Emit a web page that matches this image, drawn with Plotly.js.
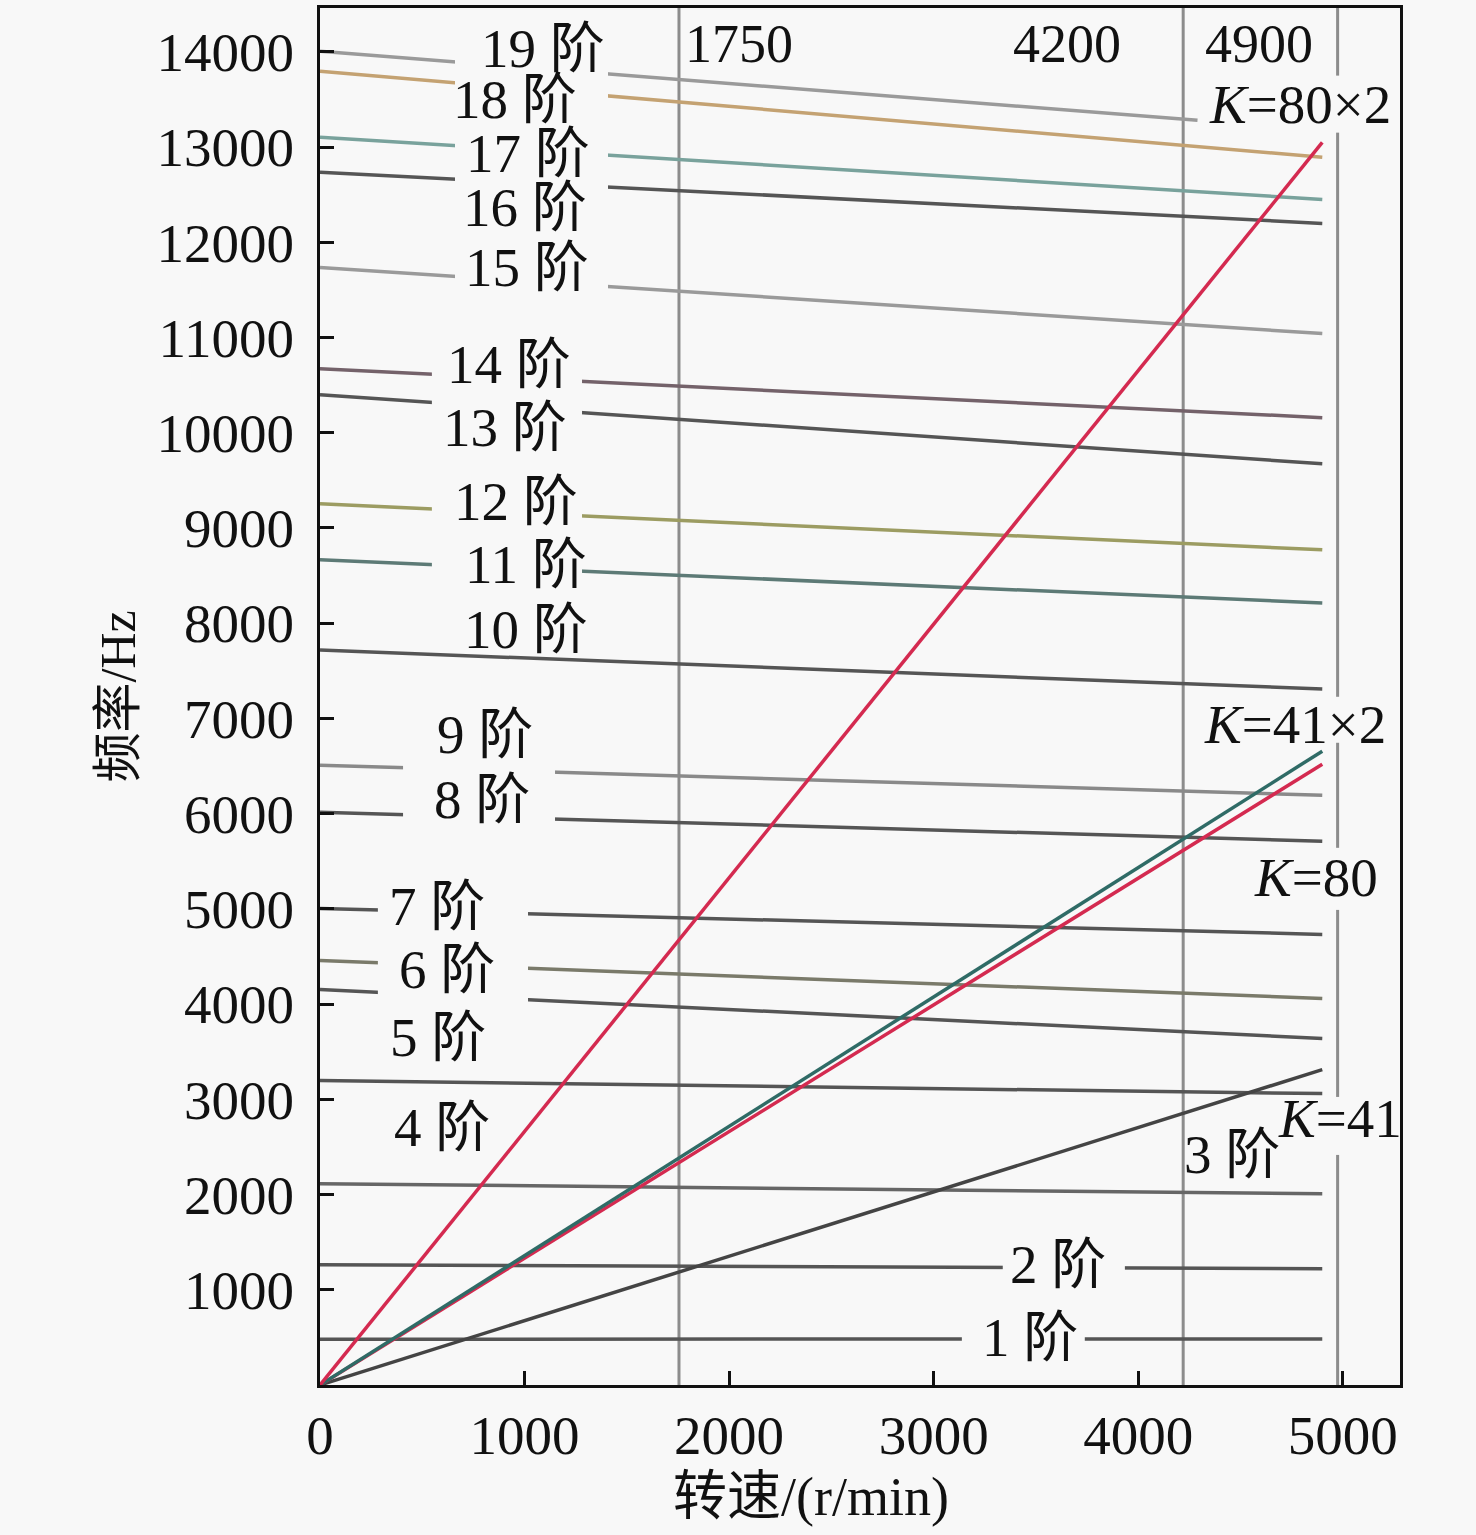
<!DOCTYPE html>
<html>
<head>
<meta charset="utf-8">
<script src="https://cdn.plot.ly/plotly-3.0.1.min.js"></script>
<style>
  html, body { margin: 0; padding: 0; background: #f8f8f8; }
  #myDiv { width: 1476px; height: 1535px; }
</style>
</head>
<body>
<div id="myDiv"></div>
<script>
// mode lines (阶): value at 0 r/min and at the right end
var modeNames = ['1 阶', '2 阶', '3 阶', '4 阶', '5 阶', '6 阶', '7 阶', '8 阶', '9 阶', '10 阶',
                 '11 阶', '12 阶', '13 阶', '14 阶', '15 阶', '16 阶', '17 阶', '18 阶', '19 阶'];
var modeEndSpeed = [4900, 4900, 4900, 4900, 4900, 4900, 4900, 4900, 4900, 4900,
                    4900, 4900, 4900, 4900, 4900, 4900, 4900, 4900, 4290];
var modeStart = [480, 1262, 2114, 3197, 4154, 4458, 5005, 6015, 6509, 7718,
                 8665, 9253, 10400, 10673, 11735, 12734, 13102, 13796, 14006];
var modeEnd = [484, 1220, 2008, 3060, 3638, 4059, 4732, 5710, 6193, 7308,
               8212, 8770, 9674, 10158, 11041, 12198, 12450, 12892, 13281];

// excitation lines K
var kNames = ['K=41', 'K=80', 'K=41×2', 'K=80×2'];
var kEndSpeed = [4900, 4900, 4900, 4900];
var kEnd = [3312, 6519, 6656, 13049];

// speed markers
var markSpeed = [1755, 4220, 4975];
var markText = ['1750', '4200', '4900'];

// axis ticks
var xTicks = [0, 1000, 2000, 3000, 4000, 5000];
var yTicks = [1000, 2000, 3000, 4000, 5000, 6000, 7000, 8000, 9000, 10000, 11000, 12000, 13000, 14000];

// label positions
var modeLabelX = [3470, 3607, 4457, 596, 577, 621, 572, 792, 806, 1007,
                  1007, 958, 904, 924, 1012, 1002, 1017, 953, 1090];
var modeLabelY = [504, 1261, 2416, 2700, 3645, 4359, 5021, 6145, 6827, 7930,
                  8613, 9275, 10053, 10714, 11733, 12364, 12930, 13498, 14030];
var kLabelX = [4985, 4868, 4765, 4790];
var kLabelY = [2794, 5326, 6933, 13445];

var modeColors = ['#555', '#555', '#666', '#555', '#555', '#7a7a6a', '#555', '#555', '#8a8a8a', '#555',
                  '#5d7a76', '#9c9c62', '#555', '#74626a', '#9a9a9a', '#555', '#79a29c', '#c4a272', '#9a9a9a'];
var kColors = ['#444', '#d42a50', '#2f6b66', '#d42a50'];

var bg = '#f8f8f8';
var serif = 'Liberation Serif, Noto Sans CJK SC, serif';

var data = [];
for (var i = 0; i < modeNames.length; i++) {
  data.push({
    x: [0, modeEndSpeed[i]],
    y: [modeStart[i], modeEnd[i]],
    mode: 'lines',
    line: {color: modeColors[i], width: 3.5},
    hoverinfo: 'skip',
    showlegend: false
  });
}
for (var j = 0; j < kNames.length; j++) {
  data.push({
    x: [0, kEndSpeed[j]],
    y: [0, kEnd[j]],
    mode: 'lines',
    line: {color: kColors[j], width: 3.5},
    hoverinfo: 'skip',
    showlegend: false
  });
}

var shapes = [];
markSpeed.forEach(function (s) {
  shapes.push({type: 'line', xref: 'x', yref: 'paper', x0: s, x1: s, y0: 0, y1: 1,
               line: {color: '#8c8c8c', width: 3}, layer: 'below'});
});

// gaps cut in the lines behind the labels
var gapBoxes = [
  [660, 1408, 11400, 14300],
  [547, 1281, 8300, 10900],
  [406, 1149, 5700, 6700],
  [283, 1017, 3900, 5200],
  [3338, 3935, 1050, 1450],
  [3138, 3739, 300, 650],
  [4940, 5010, 13151, 13750],
  [4940, 5010, 6744, 7227],
  [4940, 5010, 4989, 5641],
  [4940, 5010, 2416, 3025]
];
gapBoxes.forEach(function (g) {
  shapes.push({type: 'rect', xref: 'x', yref: 'y', x0: g[0], x1: g[1], y0: g[2], y1: g[3],
               fillcolor: bg, line: {width: 0}, layer: 'above'});
});

var labelFont = {family: serif, size: 55, color: '#111'};
var annotations = [];
for (var a = 0; a < modeNames.length; a++) {
  annotations.push({x: modeLabelX[a], y: modeLabelY[a], text: modeNames[a], showarrow: false,
                    xanchor: 'center', yanchor: 'middle', font: labelFont});
}
for (var b = 0; b < kNames.length; b++) {
  annotations.push({x: kLabelX[b], y: kLabelY[b], text: '<i>K</i>' + kNames[b].slice(1), showarrow: false,
                    xanchor: 'center', yanchor: 'middle', font: labelFont});
}
var markShift = [4, -172, -135];
for (var c = 0; c < markText.length; c++) {
  annotations.push({x: markSpeed[c], y: 1, xref: 'x', yref: 'paper', text: markText[c], showarrow: false,
                    xanchor: 'left', yanchor: 'top', xshift: markShift[c], yshift: -4,
                    font: {family: serif, size: 54, color: '#111'}});
}
// x axis title, sits a little left of centre
annotations.push({x: 0.4546, y: -0.081, xref: 'paper', yref: 'paper', text: '转速/(r/min)', showarrow: false,
                  xanchor: 'center', yanchor: 'middle', font: {family: serif, size: 54, color: '#111'}});

var layout = {
  width: 1476,
  height: 1535,
  margin: {l: 320, r: 76, t: 8, b: 150},
  paper_bgcolor: bg,
  plot_bgcolor: bg,
  font: {family: serif, color: '#111'},
  xaxis: {
    range: [0, 5280],
    tickvals: xTicks,
    ticktext: xTicks.map(String),
    ticks: 'inside', ticklen: 14, tickwidth: 3, tickcolor: '#111',
    showline: true, linecolor: '#111', linewidth: 3, mirror: true,
    showgrid: false, zeroline: false,
    tickfont: {family: serif, size: 55, color: '#111'},
    ticklabelstandoff: 0
  },
  yaxis: {
    range: [0, 14460],
    tickvals: yTicks,
    ticktext: yTicks.map(String),
    ticks: 'inside', ticklen: 14, tickwidth: 3, tickcolor: '#111',
    showline: true, linecolor: '#111', linewidth: 3, mirror: true,
    showgrid: false, zeroline: false,
    tickfont: {family: serif, size: 55, color: '#111'},
    ticklabelstandoff: 12,
    title: {text: '频率/Hz', font: {family: serif, size: 50, color: '#111'}, standoff: 6}
  },
  shapes: shapes,
  annotations: annotations
};

Plotly.newPlot('myDiv', data, layout, {displayModeBar: false, staticPlot: true});
</script>
</body>
</html>
